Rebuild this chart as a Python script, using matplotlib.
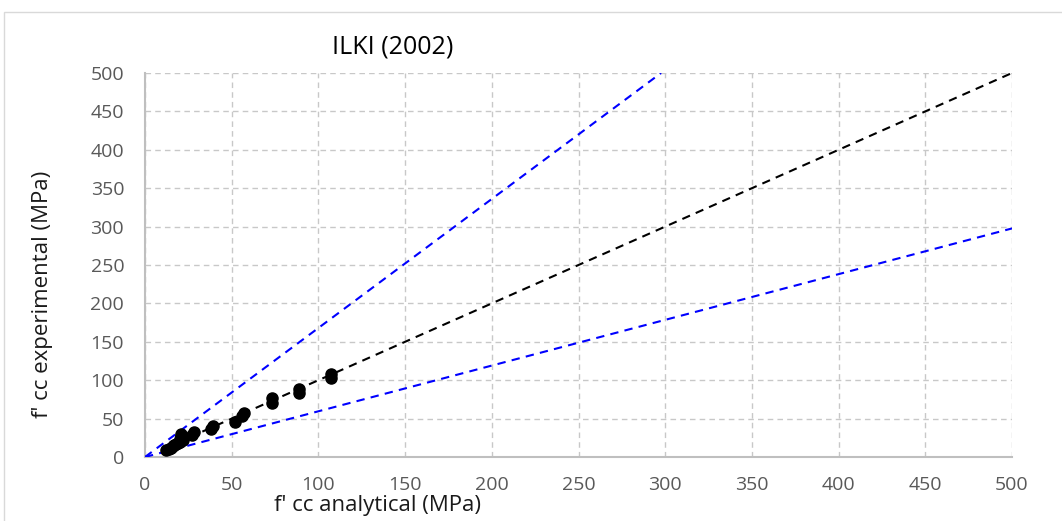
import matplotlib.pyplot as plt
from matplotlib.patches import Rectangle

# Confined concrete strength: analytical (ILKI 2002) vs experimental
f_cc_analytical = [12, 14, 15, 16, 17, 18, 19, 20, 20, 21, 21, 22, 22, 27, 28,
                   38, 39, 52, 56, 57, 73, 73, 89, 89, 107, 107]
f_cc_experimental = [9, 11, 12, 14, 15, 17, 18, 20, 24, 27, 30, 22, 26, 28, 32,
                     36, 41, 46, 53, 57, 70, 77, 83, 88, 103, 108]

# Reference lines: equality line and upper/lower bounds
equality_x = [10, 500]
upper_slope = 1.68
lower_slope = 1 / 1.68
bound_x = [0, 500 / upper_slope]
lower_x = [0, 500]

ticks = list(range(0, 501, 50))

plt.rcParams['font.family'] = ['Open Sans', 'DejaVu Sans']

W, H = 1062, 521
fig = plt.figure(figsize=(W / 100, H / 100), dpi=100)
fig.patches.append(Rectangle((4 / W, -0.01), 1.05, 1 - 12 / H + 0.01,
                             transform=fig.transFigure, fill=False,
                             edgecolor='#d9d9d9', linewidth=1))
ax = fig.add_axes([145 / W, 64 / H, 867 / W, 384 / H])

ax.plot(bound_x, [upper_slope * v for v in bound_x], color='#0000ff',
        linestyle=(0, (4, 3)), linewidth=1.5, zorder=3)
ax.plot(lower_x, [lower_slope * v for v in lower_x], color='#0000ff',
        linestyle=(0, (4, 3)), linewidth=1.5, zorder=3)
ax.plot(equality_x, equality_x, color='black',
        linestyle=(0, (4, 3)), linewidth=1.5, zorder=3)
ax.plot(f_cc_analytical, f_cc_experimental, linestyle='none', marker='o',
        markersize=8, color='black', zorder=4)

ax.set_xlim(0, 500)
ax.set_ylim(0, 500)
ax.set_xticks(ticks)
ax.set_yticks(ticks)
ax.grid(True, color='#c8c8c8', linestyle=(0, (4, 3)), linewidth=1)
ax.set_axisbelow(True)
for side in ('top', 'right'):
    ax.spines[side].set_visible(False)
for side in ('left', 'bottom'):
    ax.spines[side].set_color('#bfbfbf')
    ax.spines[side].set_linewidth(1.5)
ax.tick_params(length=0, labelsize=14, labelcolor='#595959')
ax.tick_params(axis='x', pad=14)
ax.tick_params(axis='y', pad=15)

fig.text(377 / W, 1 - 506 / H, "f' cc analytical (MPa)", fontsize=16,
         ha='center', va='center', color='#1a1a1a')
fig.text(43 / W, 1 - 294 / H, "f' cc experimental (MPa)", fontsize=16,
         ha='center', va='center', rotation=90, color='#1a1a1a')
fig.text(393 / W, 1 - 47 / H, 'ILKI (2002)', fontsize=18, ha='center',
         va='center', color='black')

fig.savefig('out.png', dpi=100)
